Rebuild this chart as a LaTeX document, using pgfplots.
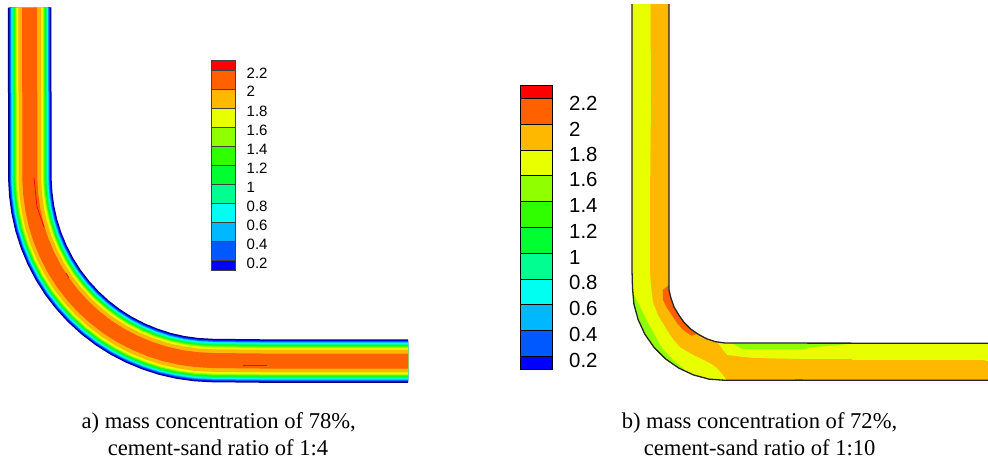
\documentclass[border=0pt]{standalone}
\usepackage{fontspec}
\setmainfont{Liberation Serif}
\newfontfamily\arial{Liberation Sans}
\usepackage{pgfplots}
\usepackage{pgfplotstable}
\pgfplotsset{compat=1.18}
\definecolor{cN}{RGB}{0,0,130}
\definecolor{c0}{RGB}{0,0,255}
\definecolor{c1}{RGB}{0,88,255}
\definecolor{c2}{RGB}{0,184,255}
\definecolor{c3}{RGB}{0,255,240}
\definecolor{c4}{RGB}{0,255,144}
\definecolor{c5}{RGB}{0,255,48}
\definecolor{c6}{RGB}{48,255,0}
\definecolor{c7}{RGB}{144,255,0}
\definecolor{c8}{RGB}{232,255,0}
\definecolor{c9}{RGB}{255,184,0}
\definecolor{c10}{RGB}{255,96,0}
\definecolor{c11}{RGB}{255,0,0}
\pgfplotstableread{
x y
29.7 7.5
29.8 178
30.7 193.9
32.8 209.6
36.2 225.1
41 240.2
47.1 254.9
54.4 269
62.9 282.4
72.6 295
83.3 306.7
95 317.4
107.6 327.1
121 335.6
135.1 342.9
149.8 349
164.9 353.9
180.4 357.4
196.1 359.6
212 360.5
260 361
408 361
}\pipeA
\newcommand\band[2]{\addplot[no markers,color=#1,line width=#2pt,line cap=butt,line join=round] table {\pipeA};}
\newcommand\lgd[6]{\addplot[fill=#1,draw=#6,line width=1pt] coordinates {(#2,#4)(#3,#4)(#3,#5)(#2,#5)} --cycle;}
\begin{document}
\begin{tikzpicture}
\begin{axis}[
  at={(0,0)},anchor=south west,
  scale only axis,width=988pt,height=461pt,
  xmin=0,xmax=988,ymin=0,ymax=461,y dir=reverse,hide axis,clip=true]
% panel a: contour bands along the pipe
\band{cN}{43.5}
\band{c0}{41.5}
\band{c1}{40}
\band{c2}{38}
\band{c3}{36.5}
\band{c4}{34.5}
\band{c5}{32.5}
\band{c6}{30.5}
\band{c7}{28.5}
\band{c8}{26.5}
\band{c9}{22.5}
\band{c10}{15}
\addplot[no markers,color=c11,line width=.7pt] coordinates {(34,178)(37,207)(44,227)};
\addplot[no markers,color=c11,line width=.7pt] coordinates {(66,273)(69,278)};
\addplot[no markers,color=c11,line width=.7pt] coordinates {(243,365)(267,365)};
% legend a
\lgd{c11}{211}{235.7}{60.7}{70.7}{black!75}
\lgd{c10}{211}{235.7}{70.7}{89}{black!75}
\lgd{c9}{211}{235.7}{89}{108}{black!75}
\lgd{c8}{211}{235.7}{108}{127.3}{black!75}
\lgd{c7}{211}{235.7}{127.3}{146.3}{black!75}
\lgd{c6}{211}{235.7}{146.3}{165.3}{black!75}
\lgd{c5}{211}{235.7}{165.3}{184.3}{black!75}
\lgd{c4}{211}{235.7}{184.3}{203.7}{black!75}
\lgd{c3}{211}{235.7}{203.7}{222.3}{black!75}
\lgd{c2}{211}{235.7}{222.3}{241.3}{black!75}
\lgd{c1}{211}{235.7}{241.3}{260.3}{black!75}
\lgd{c0}{211}{235.7}{260.3}{270}{black!75}
% panel b: pipe
\addplot[fill=c8,draw=none] coordinates {(632,4)(632,270)(632.5,288)(633.9,304.1)(638.1,319.6)(644.9,334.3)(654.1,347.5)(665.5,358.9)(678.8,368.1)(693.4,374.9)(708.9,379.1)(725,380.3)(988,380.3)(988,343.3)(725,343)(715.5,341.7)(706.5,338.7)(698.3,334.3)(690.6,329)(684,322.4)(678.7,314.8)(673.8,306.6)(670.8,297.6)(669,290)(669,4)} --cycle;
\addplot[fill=c7,draw=none] coordinates {(632.4,291.7)(638,303)(645,317)(653,332)(662,348)(673,360)(685,369.5)(678.8,368.1)(665.5,358.9)(654.1,347.5)(644.9,334.3)(638.1,319.6)(633.9,304.1)} --cycle;
\addplot[fill=c7,draw=none] coordinates {(732,343.3)(737,346)(742,349)(807,349)(807,347.7)(830,345.7)(853,343.5)} --cycle;
\addplot[fill=c9,draw=none] coordinates {(650.5,4)(651,100)(650,200)(650,270)(650.7,283)(653,302)(658,315)(667,330)(673,339)(680,347)(690,353)(700,358)(710,363)(717,368)(723,375)(727,380.3)(988,380.3)(988,361)(985,361)(985,360)(852,360)(852,359)(800,359)(753,358)(727,355)(722,349)(718,343)(715.5,341.7)(706.5,338.7)(698.3,334.3)(690.6,329)(684,322.4)(678.7,314.8)(673.8,306.6)(670.8,297.6)(669,290)(669,4)} --cycle;
\addplot[fill=c10,draw=none] coordinates {(669,285)(662.7,290)(663,300)(667,308)(671.7,315)(677,323)(683,330)(691.7,335.7)(697,334)(690.6,329)(684,322.4)(678.7,314.8)(673.8,306.6)(670.8,297.6)(669,290)} --cycle;
\addplot[fill=c10,draw=none] coordinates {(795,379)(803,379)(803,380)(795,380)} --cycle;
\addplot[no markers,color=black!85,line width=1.3pt] coordinates {(632,4)(632,270)(632.5,288)(633.9,304.1)(638.1,319.6)(644.9,334.3)(654.1,347.5)(665.5,358.9)(678.8,368.1)(693.4,374.9)(708.9,379.1)(725,380.3)(988,380.3)};
\addplot[no markers,color=black!85,line width=1.3pt] coordinates {(669,4)(669,290)(670.8,297.6)(673.8,306.6)(678.7,314.8)(684,322.4)(690.6,329)(698.3,334.3)(706.5,338.7)(715.5,341.7)(725,343)(988,343.3)};
% legend b
\lgd{c11}{520.3}{552.7}{85.3}{98.3}{black}
\lgd{c10}{520.3}{552.7}{98.3}{124.3}{black}
\lgd{c9}{520.3}{552.7}{124.3}{150.3}{black}
\lgd{c8}{520.3}{552.7}{150.3}{175.3}{black}
\lgd{c7}{520.3}{552.7}{175.3}{201.7}{black}
\lgd{c6}{520.3}{552.7}{201.7}{227.3}{black}
\lgd{c5}{520.3}{552.7}{227.3}{253.3}{black}
\lgd{c4}{520.3}{552.7}{253.3}{279.3}{black}
\lgd{c3}{520.3}{552.7}{279.3}{304.7}{black}
\lgd{c2}{520.3}{552.7}{304.7}{330.3}{black}
\lgd{c1}{520.3}{552.7}{330.3}{356.3}{black}
\lgd{c0}{520.3}{552.7}{356.3}{369.3}{black}
% legend texts
\foreach \t/\y in {2.2/73,2/91,1.8/111,1.6/130,1.4/149,1.2/168,1/187,0.8/206,0.6/225,0.4/244,0.2/263}{
  \edef\tmp{\noexpand\node[anchor=west,inner sep=0pt,font=\noexpand\arial\noexpand\fontsize{15}{15}\noexpand\selectfont] at (axis cs:246.5,\y) {\t};}\tmp}
\foreach \t/\y in {2.2/103.3,2/129.3,1.8/154.5,1.6/179.8,1.4/205.5,1.2/231.7,1/257.7,0.8/282.8,0.6/308.3,0.4/334.3,0.2/360.7}{
  \edef\tmp{\noexpand\node[anchor=west,inner sep=0pt,font=\noexpand\arial\noexpand\fontsize{20.4}{20}\noexpand\selectfont] at (axis cs:569,\y) {\t};}\tmp}
% captions
\node[anchor=base,inner sep=0pt,font=\fontsize{22.6}{22.6}\selectfont] at (axis cs:218.7,428) {a) mass concentration of 78\%,};
\node[anchor=base,inner sep=0pt,font=\fontsize{22.6}{22.6}\selectfont] at (axis cs:218,455.5) {cement-sand ratio of 1:4};
\node[anchor=base,inner sep=0pt,font=\fontsize{22.6}{22.6}\selectfont] at (axis cs:759.5,428) {b) mass concentration of 72\%,};
\node[anchor=base,inner sep=0pt,font=\fontsize{22.6}{22.6}\selectfont] at (axis cs:759.7,455.5) {cement-sand ratio of 1:10};
\end{axis}
\pgfresetboundingbox
\path[use as bounding box] (0,0) rectangle (988pt,461pt);
\end{tikzpicture}
\end{document}
